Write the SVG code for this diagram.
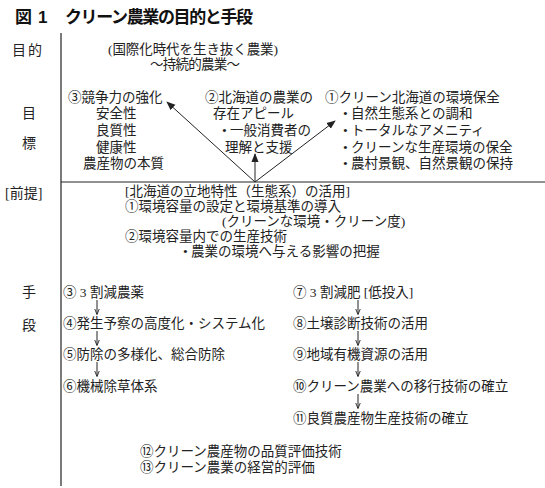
<svg xmlns="http://www.w3.org/2000/svg" width="545" height="488" viewBox="0 0 545 488">
<style>
text{font-family:"Liberation Serif","Noto Sans CJK JP",serif;font-size:13.5px;fill:#222}
.title{font-family:"Liberation Sans","Noto Sans CJK JP",sans-serif;font-size:17px;font-weight:bold;fill:#111}
.lbl{font-size:14px}
.ln{stroke:#222;stroke-width:1.2;fill:none}
.ar{stroke:#222;stroke-width:1;fill:none}
</style>
<defs>
<marker id="ah" viewBox="0 0 10 10" refX="9" refY="5" markerWidth="9" markerHeight="9" markerUnits="userSpaceOnUse" orient="auto">
<path d="M0,1 L10,5 L0,9 Z" fill="#222"/>
</marker>
<marker id="sh" viewBox="0 0 10 10" refX="9" refY="5" markerWidth="6" markerHeight="6" markerUnits="userSpaceOnUse" orient="auto">
<path d="M0,1 L10,5 L0,9" fill="none" stroke="#222" stroke-width="1.5"/>
</marker>
</defs>
<rect width="545" height="488" fill="#fff"/>
<g id="title"><text class="title" x="15" y="23">図</text><text class="title" x="38" y="23">1</text><text class="title" x="65" y="23" textLength="188">クリーン農業の目的と手段</text></g>
<g id="frame">
<line class="ln" x1="61" y1="33" x2="61" y2="486"/>
<line class="ln" x1="61" y1="182" x2="545" y2="182"/>
</g>
<g id="labels">
<text class="lbl" x="12" y="55">目</text><text class="lbl" x="28" y="55">的</text>
<text class="lbl" x="22" y="118">目</text>
<text class="lbl" x="22" y="148">標</text>
<text class="lbl" x="5" y="198">[前提]</text>
<text class="lbl" x="22" y="297">手</text>
<text class="lbl" x="22" y="330">段</text>
</g>
<g id="purpose">
<text x="108" y="54" textLength="170">(国際化時代を生き抜く農業)</text>
<text x="150" y="69" textLength="90">〜持続的農業〜</text>
</g>
<g id="goal3">
<text x="68" y="102" font-size="14">③競争力の強化</text>
<text x="96" y="118">安全性</text>
<text x="96" y="135">良質性</text>
<text x="96" y="152">健康性</text>
<text x="83" y="168">農産物の本質</text>
</g>
<g id="goal2">
<text x="205" y="102" font-size="14">②北海道の農業の</text>
<text x="213" y="118">存在アピール</text>
<text x="222" y="135">• 一般消費者の</text>
<text x="225" y="152">理解と支援</text>
</g>
<g id="goal1">
<text x="325" y="102" font-size="14">①クリーン北海道の環境保全</text>
<text x="343" y="118">• 自然生態系との調和</text>
<text x="343" y="135">• トータルなアメニティ</text>
<text x="343" y="152">• クリーンな生産環境の保全</text>
<text x="343" y="168">• 農村景観、自然景観の保持</text>
</g>
<g id="premise">
<text x="125" y="196">[北海道の立地特性（生態系）の活用]</text>
<text x="125" y="211">①環境容量の設定と環境基準の導入</text>
<text x="222" y="226">(クリーンな環境・クリーン度)</text>
<text x="125" y="241">②環境容量内での生産技術</text>
<text x="183" y="256">• 農業の環境へ与える影響の把握</text>
</g>
<g id="means-left">
<text x="63" y="297">③ 3 割減農薬</text>
<text x="63" y="328">④発生予察の高度化・システム化</text>
<text x="63" y="359">⑤防除の多様化、総合防除</text>
<text x="63" y="391">⑥機械除草体系</text>
</g>
<g id="means-right">
<text x="293" y="297">⑦ 3 割減肥 [低投入]</text>
<text x="293" y="328">⑧土壌診断技術の活用</text>
<text x="293" y="359">⑨地域有機資源の活用</text>
<text x="293" y="391">⑩クリーン農業への移行技術の確立</text>
<text x="293" y="423">⑪良質農産物生産技術の確立</text>
</g>
<g id="evaluation">
<text x="140" y="456">⑫クリーン農産物の品質評価技術</text>
<text x="140" y="472">⑬クリーン農業の経営的評価</text>
</g>
<g id="connectors">
<line class="ar" x1="255" y1="182" x2="167" y2="102" marker-end="url(#ah)"/>
<line class="ar" x1="255" y1="182" x2="335" y2="121" marker-end="url(#ah)"/>
<line class="ar" x1="255" y1="182" x2="255" y2="154" marker-end="url(#ah)"/>
<line class="ar" x1="97" y1="300" x2="97" y2="314" marker-end="url(#sh)"/>
<line class="ar" x1="97" y1="331" x2="97" y2="345" marker-end="url(#sh)"/>
<line class="ar" x1="97" y1="362" x2="97" y2="376" marker-end="url(#sh)"/>
<line class="ar" x1="358" y1="300" x2="358" y2="314" marker-end="url(#sh)"/>
<line class="ar" x1="358" y1="331" x2="358" y2="345" marker-end="url(#sh)"/>
<line class="ar" x1="358" y1="362" x2="358" y2="376" marker-end="url(#sh)"/>
<line class="ar" x1="358" y1="394" x2="358" y2="408" marker-end="url(#sh)"/>
</g>
</svg>
